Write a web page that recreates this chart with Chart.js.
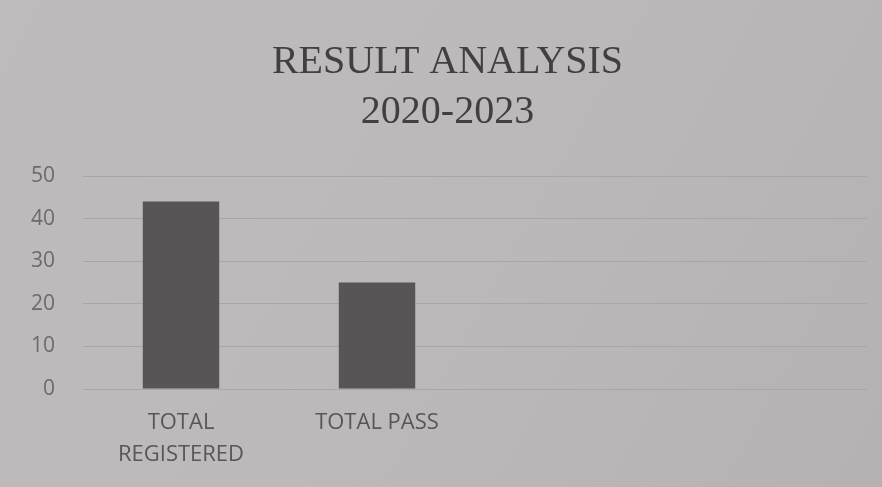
<!DOCTYPE html>
<html>
<head>
<meta charset="utf-8">
<script src="https://cdn.jsdelivr.net/npm/chart.js@4/dist/chart.umd.min.js"></script>
<style>
  html, body { margin: 0; padding: 0; background: #bcb8b9; }
  canvas { display: block; }
</style>
</head>
<body>
<canvas id="chart" width="882" height="487"></canvas>
<script>
// values
var categories = [["TOTAL", "REGISTERED"], "TOTAL PASS", "", ""];
var counts = [44, 25, null, null];
var yTicks = [0, 10, 20, 30, 40, 50];

var textGray = "#5a5657";

// paint the paper colour behind the chart
var paper = {
  id: "paper",
  beforeDraw: function(chart){
    var ctx = chart.ctx;
    var g = ctx.createLinearGradient(0, 0, chart.width, chart.height);
    g.addColorStop(0, "#bfbbbc");
    g.addColorStop(0.5, "#bdb9ba");
    g.addColorStop(1, "#b6b2b3");
    ctx.save();
    ctx.fillStyle = g;
    ctx.fillRect(0, 0, chart.width, chart.height);
    ctx.restore();
  }
};

var ctx = document.getElementById("chart").getContext("2d");
var myChart = new Chart(ctx, {
  type: "bar",
  data: {
    labels: categories,
    datasets: [{
      data: counts,
      backgroundColor: "#595556",
      borderWidth: 0,
      barPercentage: 0.39,
      categoryPercentage: 1.0
    }]
  },
  options: {
    responsive: false,
    animation: false,
    layout: { padding: { left: 28, right: 15, top: 0, bottom: 0 } },
    plugins: {
      legend: { display: false },
      tooltip: { enabled: false },
      title: {
        display: true,
        text: ["RESULT ANALYSIS", "2020-2023"],
        color: "#433f40",
        font: { family: "'Liberation Serif', 'DejaVu Serif', serif", size: 40, weight: "normal", lineHeight: 1.25 },
        padding: { top: 37, bottom: 39 }
      }
    },
    scales: {
      x: {
        afterFit: function(axis){ axis.height = 98; },
        grid: { display: false, drawTicks: false },
        border: { display: false },
        ticks: {
          color: textGray,
          maxRotation: 0,
          autoSkip: false,
          padding: 18,
          font: { family: "'Open Sans', sans-serif", size: 22, lineHeight: 1.45 }
        }
      },
      y: {
        min: 0,
        max: 50,
        afterFit: function(axis){ axis.width = 55; },
        afterBuildTicks: function(axis){
          axis.ticks = yTicks.map(function(v){ return { value: v }; });
        },
        border: { display: false },
        grid: { color: "#aaa6a7", lineWidth: 1, drawTicks: false },
        ticks: {
          color: "#6e6a6b",
          padding: 28,
          font: { family: "'Open Sans', sans-serif", size: 21 }
        }
      }
    }
  },
  plugins: [paper]
});
</script>
</body>
</html>
